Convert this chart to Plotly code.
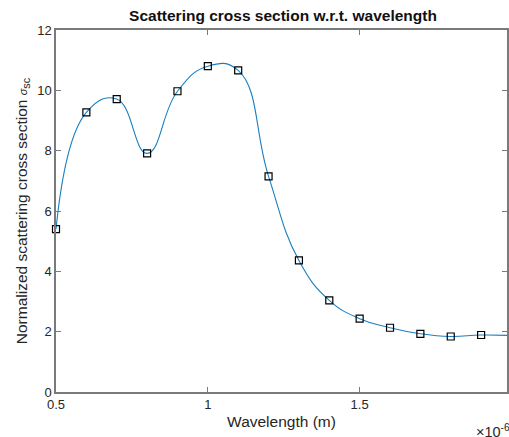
import plotly.graph_objects as go

# wavelength in micrometres (axis shows x 10^-6 m)
wavelength = [0.5, 0.6, 0.7, 0.8, 0.9, 1.0, 1.1, 1.2, 1.3, 1.4, 1.5, 1.6, 1.7, 1.8, 1.9, 2.0]
sigma_sc = [5.40, 9.27, 9.71, 7.91, 9.97, 10.80, 10.66, 7.15, 4.36, 3.04, 2.43, 2.13, 1.93, 1.84, 1.89, 1.87]

W, H = 509, 437
L, R, T, B = 56, 0, 30, 45

axis_col = "#7a7a7a"
txt_col = "#262626"
font_fam = "Liberation Sans, Arial, sans-serif"

fig = go.Figure()
fig.add_trace(go.Scatter(
    x=wavelength, y=sigma_sc, mode="lines",
    line=dict(color="#1a7fc1", width=1.1, shape="spline", smoothing=1.3),
    showlegend=False, hoverinfo="skip"))
fig.add_trace(go.Scatter(
    x=wavelength[:-1], y=sigma_sc[:-1], mode="markers", cliponaxis=False,
    marker=dict(symbol="square-open", size=7, color="black", line=dict(width=1.2, color="black")),
    showlegend=False))

fig.update_layout(
    width=W, height=H,
    margin=dict(l=L, r=R, t=T, b=B),
    paper_bgcolor="white", plot_bgcolor="white",
    font=dict(family=font_fam, color=txt_col, size=13),
    title=dict(text="<b>Scattering cross section w.r.t. wavelength</b>",
               x=(284 - L) / (W - L - R), xref="paper", xanchor="center",
               y=1 - 16 / H, yanchor="middle", font=dict(size=15.5, color="#111")),
    xaxis=dict(range=[0.5, 0.5 + (W - L - R) / 305.0],
               tickvals=[0.5, 1, 1.5, 2], ticktext=["0.5", "1", "1.5", "2"],
               ticks="inside", ticklen=5, tickcolor=axis_col, tickwidth=1,
               showline=True, linecolor=axis_col, linewidth=1.5, mirror="ticks",
               showgrid=False, zeroline=False,
               tickfont=dict(size=13, color=txt_col),
               title=dict(text="Wavelength (m)", font=dict(size=15.5, color=txt_col), standoff=5)),
    yaxis=dict(range=[0, 12], tickvals=[0, 2, 4, 6, 8, 10, 12],
               ticks="inside", ticklen=5, tickcolor=axis_col, tickwidth=1,
               showline=True, linecolor=axis_col, linewidth=1.5, mirror="ticks",
               showgrid=False, zeroline=False,
               tickfont=dict(size=13, color=txt_col),
               title=dict(text="Normalized scattering cross section <span style='font-size:11px'><i>σ</i></span><sub>sc</sub>",
                          font=dict(size=15.5, color=txt_col), standoff=6)),
)

fig.add_annotation(text="×10<sup>-6</sup>", xref="paper", yref="paper",
                   x=(476 - L) / (W - L - R), y=-(431 - (H - B)) / (H - T - B),
                   xanchor="left", yanchor="middle", showarrow=False,
                   font=dict(size=14.5, color=txt_col))

fig.write_html("out.html")
